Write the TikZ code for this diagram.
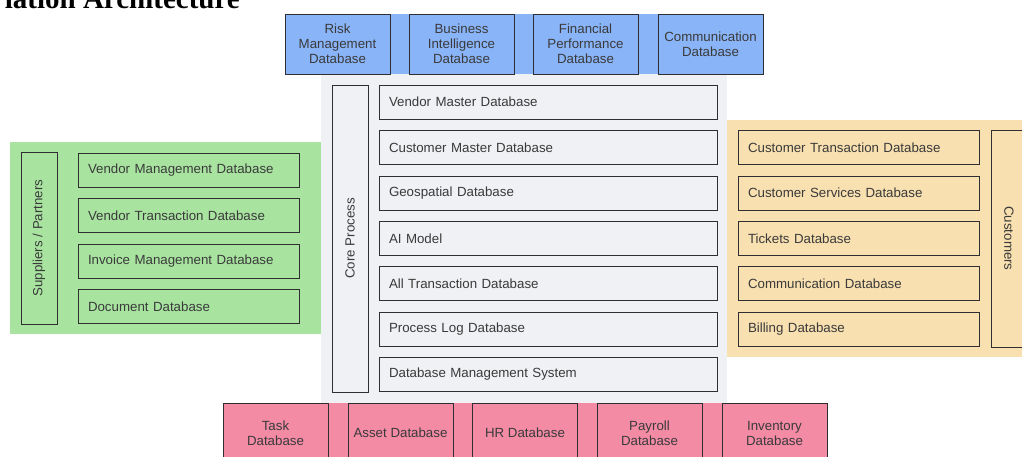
\documentclass[tikz,border=0pt]{standalone}
\usepackage{fontspec}
\setmainfont{Liberation Sans}
\newfontfamily\headfont{Liberation Serif}
\definecolor{lineC}{HTML}{2E2E33}
\definecolor{txtC}{HTML}{3A3A3A}
\definecolor{blueF}{HTML}{8AB4F8}
\definecolor{greyF}{HTML}{F0F1F4}
\definecolor{greenF}{HTML}{A8E4A0}
\definecolor{sandF}{HTML}{F8E0B0}
\definecolor{pinkF}{HTML}{F48BA5}
\begin{document}
\begin{tikzpicture}[x=1pt,y=-1pt,
  box/.style={draw=lineC, line width=0.8pt, text=txtC, inner sep=0pt,
    font=\fontsize{13.3}{15}\selectfont},
  rowbox/.style={box, minimum height=34pt, inner xsep=10pt, align=left, text width=#1},
  topbox/.style={box, fill=blueF, minimum width=105pt, minimum height=60pt, align=center},
  botbox/.style={box, fill=pinkF, minimum width=105pt, minimum height=60pt, align=center},
  sidebox/.style={box, align=center, minimum height=36pt}
]
\useasboundingbox (0,0) rectangle (1022,457);

% heading
\node[anchor=base east, inner sep=0pt, font=\headfont\bfseries\fontsize{29}{30}\selectfont]
  (title) at (240,9) {iation Architecture};

% coloured backgrounds
\fill[blueF] (285,14) rectangle (763,74);
\fill[greyF] (321,74) rectangle (727,403);
\fill[greenF] (10,142) rectangle (321,334);
\fill[sandF] (727,120) rectangle (1030,357);
\fill[pinkF] (223,403) rectangle (827,463);

% analytics databases on top
\node[topbox] (risk) at (337.5,44) {Risk\\Management\\Database};
\node[topbox] (bi)   at (461.5,44) {Business\\Intelligence\\Database};
\node[topbox] (fin)  at (585.5,44) {Financial\\Performance\\Database};
\node[topbox] (comm) at (710.5,44) {Communication\\Database};

% core process
\node[sidebox, rotate=90, minimum width=307pt] (core) at (350,238.5) {Core Process};
\node[rowbox=318pt] (vmd)  at (548,102)   {Vendor Master Database};
\node[rowbox=318pt] (cmd)  at (548,147.5) {Customer Master Database};
\node[rowbox=318pt] (geo)  at (548,193)   {Geospatial Database};
\node[rowbox=318pt] (ai)   at (548,238.5) {AI Model};
\node[rowbox=318pt] (atd)  at (548,283.5) {All Transaction Database};
\node[rowbox=318pt] (pld)  at (548,329)   {Process Log Database};
\node[rowbox=318pt] (dbms) at (548,374.5) {Database Management System};

% suppliers / partners
\node[sidebox, rotate=90, minimum width=172pt] (sup) at (39,238) {Suppliers / Partners};
\node[rowbox=201pt] (vmg) at (188.5,170)   {Vendor Management Database};
\node[rowbox=201pt] (vtr) at (188.5,215.5) {Vendor Transaction Database};
\node[rowbox=201pt] (inv) at (188.5,261)   {Invoice Management Database};
\node[rowbox=201pt] (doc) at (188.5,306.5) {Document Database};

% customers
\node[rowbox=221pt] (ctd) at (858.5,147.5) {Customer Transaction Database};
\node[rowbox=221pt] (csd) at (858.5,193)   {Customer Services Database};
\node[rowbox=221pt] (tkt) at (858.5,238.5) {Tickets Database};
\node[rowbox=221pt] (cmm) at (858.5,283.5) {Communication Database};
\node[rowbox=221pt] (bil) at (858.5,329.5) {Billing Database};
\node[sidebox, rotate=-90, minimum width=217pt] (cus) at (1009,238.5) {Customers};

% operational databases at the bottom
\node[botbox] (task)  at (275.5,433) {Task\\Database};
\node[botbox] (asset) at (400.5,433) {Asset Database};
\node[botbox] (hr)    at (525,433)   {HR Database};
\node[botbox] (pay)   at (649.5,433) {Payroll\\Database};
\node[botbox] (invdb) at (774.5,433) {Inventory\\Database};
\end{tikzpicture}
\end{document}
